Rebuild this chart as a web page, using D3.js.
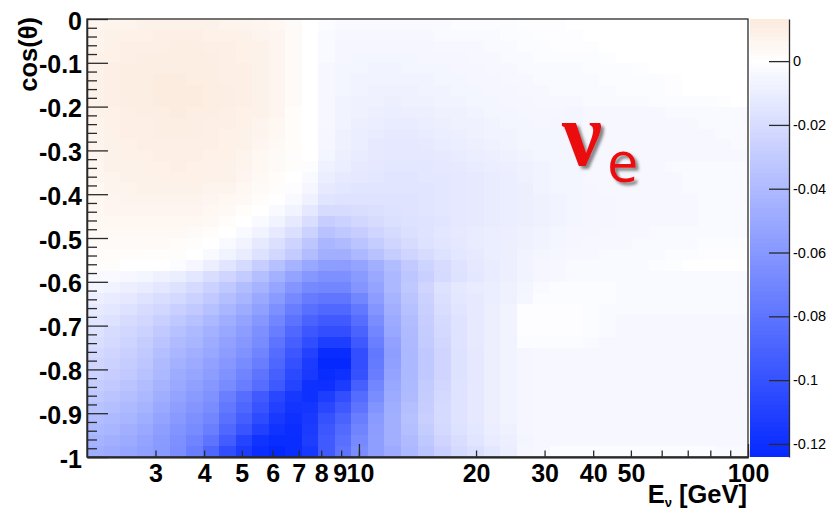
<!DOCTYPE html>
<html>
<head>
<meta charset="utf-8">
<script src="https://cdn.jsdelivr.net/npm/d3@7"></script>
<style>
  html, body { margin: 0; padding: 0; background: #ffffff; }
  svg { display: block; }
</style>
</head>
<body>
<svg id="chart" width="826" height="510"></svg>
<script>
// Binning of the 2D histogram: log-uniform in neutrino energy, uniform in cos(theta)
const energyRange = [2, 100];
const cosRange = [-1, 0];
const energyBinCount = 40;
const cosBinCount = 40;

// Colour (z) axis range and ticks
const zRange = [-0.1241, 0.0132];
const zTicks = [0, -0.02, -0.04, -0.06, -0.08, -0.1, -0.12];

// Axis ticks
const xLabelTicks = [3, 4, 5, 6, 7, 8, 9, 10, 20, 30, 40, 50, 100];
const xMinorTicks = [60, 70, 80, 90];
const xMajorTicks = [10, 100];
const yMajorTicks = [0, -0.1, -0.2, -0.3, -0.4, -0.5, -0.6, -0.7, -0.8, -0.9, -1];

// Cell contents in units of 1e-3; each row is one cos(theta) bin,
// from cos = 0 (first row) down to cos = -1 (last row); columns follow energy bins.
const cellValues = [
  [6,7,7,8,8,8,8,8,7,7,6,5,3, 0, -2,-3,-3,-3,-3,-3,-3,-3,-2,-2,-2,-2,-1,-1,-1, 0,0,0,0,0,0,0,0,0,0,0],
  [7,8,9,9,10,10,10,9,9,8,7,6,3, 0, -3,-4,-4,-4,-4,-4,-4,-3,-3,-3,-3,-2,-2,-1,-1, -1,0,0,0,0,0,0,0,0,0,0],
  [7,9,10,10,10,11,11,10,10,9,8,6,3, 0, -3,-5,-5,-5,-5,-5,-5,-4,-4,-4,-3,-3,-2,-2,-1, -1,-1,0,0,0,0,0,0,0,0,0],
  [8,9,10,11,11,11,11,11,10,9,8,6,3, 0, -3,-5,-6,-6,-6,-6,-5,-5,-5,-4,-4,-3,-3,-2,-2, -2,-2,-1,0,0,0,0,0,0,0,0],
  [8,10,11,11,11,11,11,11,10,10,8,6,3, 0, -4,-6,-6,-7,-7,-6,-6,-6,-5,-5,-4,-4,-3,-3,-3, -3,-2,-2,-2,-1,0,0,0,0,0,0],
  [8,10,11,11,12,12,11,11,10,10,8,6,3, 0, -4,-6,-7,-7,-7,-7,-7,-6,-6,-5,-5,-4,-4,-3,-3, -3,-3,-2,-2,-2,-2,-1,0,0,0,0],
  [8,10,11,11,12,12,12,11,11,10,8,6,3, 0, -4,-6,-7,-8,-8,-8,-7,-7,-6,-6,-5,-5,-4,-4,-3, -3,-3,-3,-2,-2,-2,-1,0,0,0,0],
  [8,10,11,11,12,12,12,11,11,10,8,6,3, 0, -4,-7,-8,-8,-9,-8,-8,-7,-7,-6,-6,-5,-5,-4,-4, -4,-3,-3,-3,-3,-2,-2,-2,-2,-1,0],
  [8,9,10,11,11,12,11,11,10,9,8,6,2, 0, -4,-7,-8,-9,-10,-9,-9,-8,-8,-7,-6,-6,-5,-5,-5, -6,-4,-4,-4,-4,-4,-3,-3,-3,-3,-3],
  [7,9,10,10,11,11,11,10,10,9,7,5,2, 0, -4,-7,-9,-10,-11,-11,-10,-9,-8,-8,-7,-6,-6,-5,-6, -6,-4,-4,-4,-4,-4,-4,-4,-3,-3,-3],
  [7,9,10,10,11,11,11,10,9,8,7,5,2, 0, -5,-8,-10,-11,-12,-12,-11,-10,-9,-8,-7,-7,-6,-6,-6, -6,-4,-4,-4,-4,-4,-4,-4,-4,-3,-3],
  [7,8,9,10,10,10,10,10,9,8,6,4,2, 0, -5,-8,-10,-12,-13,-13,-12,-11,-10,-9,-8,-7,-6,-6,-6, -6,-5,-4,-4,-4,-4,-4,-4,-4,-4,-3],
  [6,8,9,9,10,10,10,9,9,7,5,3,1, 0, -6,-9,-11,-12,-13,-13,-13,-12,-11,-10,-9,-8,-7,-6,-6, -6,-5,-4,-4,-4,-4,-4,-4,-4,-4,-4],
  [6,8,8,9,9,10,9,9,8,7,5,3,1, -1, -8,-10,-12,-13,-14,-14,-14,-13,-12,-11,-10,-9,-8,-7,-6, -6,-4,-4,-4,-4,-4,-3,-3,-3,-3,-3],
  [6,7,8,8,9,9,9,8,8,6,4,2,0, -3, -10,-12,-13,-14,-15,-15,-14,-14,-13,-12,-11,-10,-8,-7,-6, -6,-4,-4,-4,-4,-4,-4,-3,-3,-3,-3],
  [5,7,7,8,8,8,8,7,7,5,3,1,-1, -5, -12,-14,-15,-15,-15,-15,-15,-14,-13,-12,-11,-10,-9,-7,-6, -6,-5,-4,-4,-4,-4,-4,-3,-3,-3,-3],
  [5,6,7,7,7,7,7,6,5,4,2,0,-3, -8, -15,-16,-16,-16,-16,-16,-15,-14,-13,-12,-11,-10,-9,-8,-7, -6,-5,-5,-4,-4,-4,-4,-4,-3,-3,-3],
  [5,6,6,6,6,6,6,5,4,2,0,-3,-7, -13, -20,-20,-19,-18,-17,-16,-15,-14,-13,-12,-11,-10,-9,-8,-7, -6,-5,-5,-4,-4,-4,-4,-4,-3,-3,-3],
  [4,5,5,5,5,5,5,4,2,0,-3,-7,-12, -19, -28,-26,-23,-20,-18,-17,-16,-15,-13,-12,-11,-10,-9,-8,-7, -6,-5,-5,-4,-4,-4,-4,-4,-3,-3,-3],
  [4,4,4,4,4,4,3,2,0,-3,-7,-12,-18, -26, -35,-32,-28,-24,-21,-18,-16,-14,-12,-11,-10,-9,-8,-7,-6, -5,-5,-4,-4,-4,-3,-3,-3,-3,-3,-3],
  [3,3,3,3,3,2,1,0,-3,-7,-12,-18,-25, -33, -42,-39,-34,-29,-24,-20,-17,-15,-13,-11,-10,-9,-8,-7,-6, -5,-4,-4,-4,-3,-3,-3,-3,-2,-2,-2],
  [2,2,2,1,1,1,0,-3,-7,-11,-17,-23,-30, -38, -46,-46,-41,-35,-29,-24,-20,-17,-14,-12,-10,-9,-7,-6,-5, -4,-4,-3,-3,-3,-3,-2,-2,-1,-1,-1],
  [1,1,0,0,0,-2,-5,-9,-15,-21,-28,-36,-44, -51, -56,-57,-53,-46,-38,-31,-25,-20,-16,-13,-11,-9,-7,-5,-4, -3,-3,-3,-3,-3,-2,-1,0,0,0,0],
  [-3,-3,-4,-6,-8,-10,-14,-19,-24,-30,-37,-45,-53, -60,-64,-64,-58,-50,-41,-33,-27,-21,-17,-14, -11,-9,-7,-5,-4,-3,-3,-3,-3,-3,-3,-3,-3,-3,-3,-3],
  [-6,-7,-9,-11,-14,-17,-21,-26,-32,-38,-44,-52,-61, -68,-70,-70,-61,-53,-41,-32,-24,-17,-13,-11, -10,-8,-6,-3,-2,-2,-2,-2,-3,-3,-3,-3,-3,-3,-3,-3],
  [-9,-11,-13,-16,-19,-22,-26,-31,-37,-43,-50,-58,-68, -76,-79,-79,-70,-57,-44,-34,-26,-18,-14,-12, -10,-8,-5,-2,-2,-2,-2,-2,-3,-3,-3,-3,-3,-3,-3,-3],
  [-12,-14,-17,-20,-23,-27,-31,-36,-42,-48,-55,-64,-75, -83,-87,-87,-78,-61,-46,-36,-27,-19,-15,-12, -9,-7,-1,-1,-1,-1,-2,-3,-3,-3,-3,-3,-3,-3,-3,-3],
  [-15,-17,-20,-23,-27,-32,-36,-41,-47,-53,-60,-70,-81, -90,-95,-95,-84,-66,-49,-38,-28,-21,-16,-12, -9,-7,-1,-1,-1,-1,-2,-3,-4,-4,-4,-4,-4,-4,-4,-4],
  [-17,-20,-23,-26,-31,-36,-40,-45,-51,-57,-64,-75,-87, -97,-102,-102,-90,-70,-51,-39,-29,-22,-16,-12, -9,-7,-1,-1,-1,-1,-2,-3,-4,-4,-4,-4,-4,-4,-4,-4],
  [-19,-22,-25,-29,-34,-39,-43,-48,-54,-60,-67,-80,-92, -103,-112,-112,-96,-74,-54,-40,-30,-23,-16,-12, -9,-7,-2,-2,-2,-2,-3,-4,-4,-4,-4,-4,-4,-4,-4,-4],
  [-22,-24,-27,-31,-37,-42,-46,-51,-57,-63,-71,-85,-97, -109,-122,-122,-102,-78,-56,-41,-32,-24,-17,-13, -9,-7,-5,-4,-4,-4,-4,-4,-4,-4,-4,-4,-4,-4,-4,-4],
  [-24,-26,-29,-33,-39,-45,-49,-54,-60,-67,-75,-88,-101, -113,-124,-124,-102,-77,-55,-41,-32,-24,-17,-13, -9,-7,-5,-4,-4,-4,-4,-4,-4,-4,-4,-4,-4,-4,-4,-4],
  [-26,-28,-31,-35,-41,-48,-52,-57,-63,-71,-80,-92,-105, -114,-122,-119,-100,-75,-53,-41,-32,-24,-17,-13, -9,-7,-5,-4,-4,-4,-4,-4,-4,-4,-4,-4,-4,-4,-4,-4],
  [-29,-31,-34,-38,-44,-50,-55,-60,-67,-75,-84,-96,-108, -119,-120,-113,-92,-70,-51,-40,-30,-23,-16,-13, -9,-7,-5,-4,-4,-4,-4,-4,-4,-4,-4,-4,-4,-4,-4,-4],
  [-32,-34,-37,-41,-47,-53,-58,-63,-74,-84,-95,-106,-115, -119,-112,-102,-85,-66,-49,-39,-29,-22,-16,-13, -9,-7,-5,-4,-4,-4,-4,-4,-4,-4,-4,-4,-4,-4,-4,-4],
  [-35,-37,-40,-44,-50,-56,-61,-66,-78,-88,-99,-110,-117, -116,-106,-96,-80,-62,-47,-37,-28,-21,-16,-13, -9,-7,-5,-4,-4,-4,-4,-4,-4,-4,-4,-4,-4,-4,-4,-4],
  [-38,-40,-43,-47,-53,-59,-64,-70,-82,-93,-104,-114,-119, -114,-100,-90,-75,-58,-46,-36,-27,-21,-16,-13, -9,-7,-5,-4,-4,-4,-4,-4,-4,-4,-4,-4,-4,-4,-4,-4],
  [-41,-43,-46,-50,-56,-62,-67,-74,-87,-98,-110,-118,-121, -113,-97,-86,-71,-57,-46,-37,-29,-22,-17,-14, -10,-8,-5,-4,-4,-4,-4,-4,-4,-4,-4,-4,-4,-4,-4,-4],
  [-44,-46,-49,-53,-58,-64,-71,-80,-94,-108,-118,-122,-122, -112,-95,-83,-68,-56,-46,-39,-32,-24,-19,-15, -11,-9,-6,-4,-4,-4,-4,-4,-4,-4,-4,-4,-4,-4,-4,-4],
  [-47,-49,-52,-55,-59,-65,-75,-88,-103,-113,-121,-124,-122, -115,-95,-80,-66,-56,-49,-41,-34,-27,-21,-18, -14,-10,-5,-4,-2,-2,-2,-2,-2,-2,-2,-2,-2,-2,-3,-3]
];

const svg = d3.select("#chart");
const plot = { left: 87, right: 748, top: 19, bottom: 457 };
const bar = { left: 750, right: 789 };
const axisColor = "#2a2a2a";
const labelFont = "'Liberation Sans', Arial, Helvetica, sans-serif";
const labelSize = 25;

const x = d3.scaleLog().domain(energyRange).range([plot.left, plot.right]);
const y = d3.scaleLinear().domain(cosRange).range([plot.bottom, plot.top]);
const z = d3.scaleLinear().domain(zRange).range([plot.bottom, plot.top]);
const color = d3.scaleLinear()
  .domain([zRange[0], 0, zRange[1]])
  .range(["rgb(5,40,255)", "rgb(255,255,255)", "rgb(252,234,221)"])
  .interpolate(d3.interpolateRgb)
  .clamp(true);

// Bin edges
const eEdges = d3.range(energyBinCount + 1).map(i =>
  energyRange[0] * Math.pow(energyRange[1] / energyRange[0], i / energyBinCount));
const cEdges = d3.range(cosBinCount + 1).map(i =>
  cosRange[1] - i * (cosRange[1] - cosRange[0]) / cosBinCount);

const cells = [];
cellValues.forEach((row, r) => row.forEach((v, c) => cells.push({ r, c, v: v / 1000 })));

// Histogram cells
svg.append("g")
  .selectAll("rect")
  .data(cells)
  .join("rect")
  .attr("x", d => Math.round(x(eEdges[d.c])))
  .attr("width", d => Math.round(x(eEdges[d.c + 1])) - Math.round(x(eEdges[d.c])))
  .attr("y", d => Math.round(y(cEdges[d.r])))
  .attr("height", d => Math.round(y(cEdges[d.r + 1])) - Math.round(y(cEdges[d.r])))
  .attr("fill", d => color(d.v))
  .attr("shape-rendering", "crispEdges");

// Colour bar
const nBands = 100;
const bandEdges = d3.range(nBands + 1).map(i => zRange[0] + i * (zRange[1] - zRange[0]) / nBands);
svg.append("g")
  .selectAll("rect")
  .data(d3.range(nBands))
  .join("rect")
  .attr("x", bar.left)
  .attr("width", bar.right - bar.left)
  .attr("y", i => Math.floor(z(bandEdges[i + 1])))
  .attr("height", i => Math.ceil(z(bandEdges[i])) - Math.floor(z(bandEdges[i + 1])))
  .attr("fill", i => color((bandEdges[i] + bandEdges[i + 1]) / 2))
  .attr("shape-rendering", "crispEdges");

function styleAxis(g, size, weight) {
  g.attr("font-family", labelFont).attr("font-size", size).attr("font-weight", weight);
  g.selectAll("line").attr("stroke", axisColor).attr("stroke-width", 1.3);
  g.selectAll("path.domain").attr("stroke", axisColor).attr("stroke-width", 1.3);
  g.selectAll("text").attr("fill", "#000");
}

// X axis (log energy)
const gxMinor = svg.append("g").attr("transform", `translate(0,${plot.bottom})`)
  .call(d3.axisBottom(x).tickValues(xMinorTicks).tickSize(-6.5).tickSizeOuter(0).tickFormat(""));
styleAxis(gxMinor, labelSize, "bold");
const gxMajor = svg.append("g").attr("transform", `translate(0,${plot.bottom})`)
  .call(d3.axisBottom(x).tickValues(xMajorTicks).tickSize(-13).tickSizeOuter(0).tickFormat(""));
styleAxis(gxMajor, labelSize, "bold");
const gx = svg.append("g").attr("transform", `translate(0,${plot.bottom})`)
  .call(d3.axisBottom(x).tickValues(xLabelTicks).tickSize(-6.5).tickSizeOuter(0)
    .tickPadding(7).tickFormat(d3.format("d")));
styleAxis(gx, labelSize, "bold");
// "9" and "10" sit shoulder to shoulder on the log scale; keep them touching
gx.selectAll(".tick text").attr("dx", d => d === 9 ? -1.5 : (d === 10 ? 1 : 0));

// Y axis (cos theta)
const fmtY = d => d === 0 ? "0" : (d === -1 ? "-1" : d.toFixed(1));
const yMinor = d3.range(0, 51).map(i => -i * 0.02).filter(v => Math.abs(v * 10 - Math.round(v * 10)) > 1e-6);
const gyMinor = svg.append("g").attr("transform", `translate(${plot.left},0)`)
  .call(d3.axisLeft(y).tickValues(yMinor).tickSize(-10).tickSizeOuter(0).tickFormat(""));
styleAxis(gyMinor, labelSize, "bold");
const gy = svg.append("g").attr("transform", `translate(${plot.left},0)`)
  .call(d3.axisLeft(y).tickValues(yMajorTicks).tickSize(-21).tickSizeOuter(0).tickPadding(5).tickFormat(fmtY));
styleAxis(gy, labelSize, "bold");
gy.selectAll("text").attr("dy", "0.40em");

// Colour bar axis
const fmtZ = d => d === 0 ? "0" : String(+d.toFixed(2));
const gz = svg.append("g").attr("transform", `translate(${bar.right},0)`)
  .call(d3.axisRight(z).tickValues(zTicks).tickSize(-20).tickSizeOuter(0).tickPadding(4).tickFormat(fmtZ));
styleAxis(gz, 14.5, "normal");

// Frame round the plot
svg.append("rect")
  .attr("x", plot.left).attr("y", plot.top)
  .attr("width", plot.right - plot.left).attr("height", plot.bottom - plot.top)
  .attr("fill", "none").attr("stroke", axisColor).attr("stroke-width", 1.3);

// Axis titles
svg.append("text")
  .attr("transform", `translate(37,17) rotate(-90)`)
  .attr("text-anchor", "end")
  .attr("font-family", labelFont).attr("font-size", 25.5).attr("font-weight", "bold")
  .text("cos(\u03B8)");

const xt = svg.append("text")
  .attr("x", 747).attr("y", 503)
  .attr("text-anchor", "end")
  .attr("font-family", labelFont).attr("font-size", 25.5).attr("font-weight", "bold");
xt.append("tspan").text("E");
xt.append("tspan").attr("font-size", 13).attr("dy", 4).text("\u03BD");
xt.append("tspan").attr("dy", -4).text(" [GeV]");

// Flavour label with drop shadow
const defs = svg.append("defs");
const f = defs.append("filter").attr("id", "shadow").attr("x", "-20%").attr("y", "-20%").attr("width", "150%").attr("height", "150%");
f.append("feDropShadow").attr("dx", 3).attr("dy", 3).attr("stdDeviation", 1.6)
  .attr("flood-color", "#555").attr("flood-opacity", 0.7);

const lbl = svg.append("g").attr("filter", "url(#shadow)").attr("fill", "rgb(235,10,15)");
lbl.append("text")
  .attr("x", 562).attr("y", 165)
  .attr("font-family", "'Liberation Serif', 'DejaVu Serif', serif")
  .attr("font-size", 90)
  .attr("font-weight", "bold")
  .text("\u03BD");
lbl.append("text")
  .attr("x", 607).attr("y", 182)
  .attr("font-family", "'Open Sans', 'DejaVu Sans', sans-serif")
  .attr("font-size", 56)
  .text("e");
</script>
</body>
</html>
